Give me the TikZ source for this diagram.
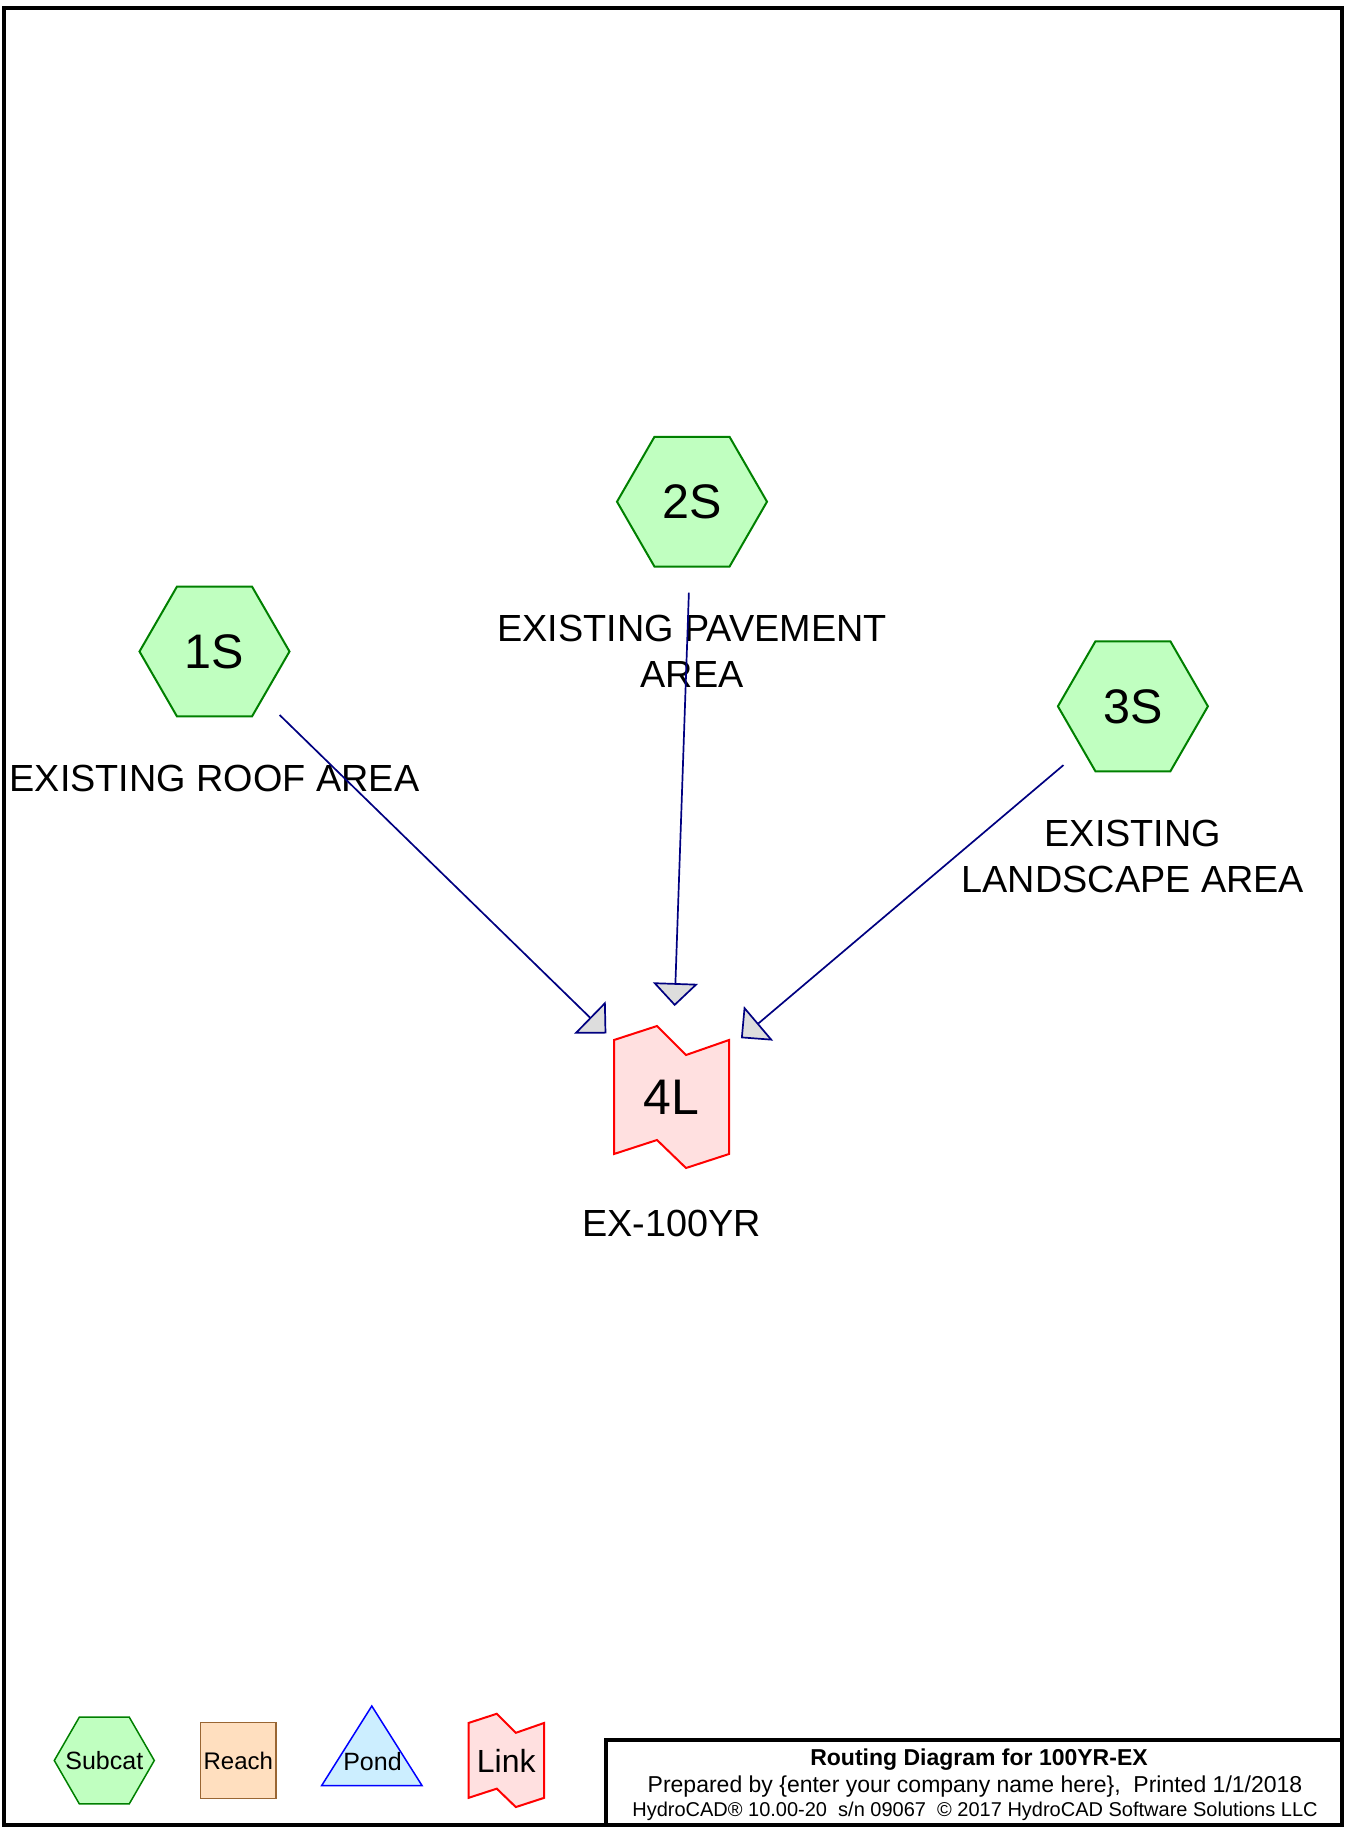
\documentclass[tikz,border=0pt]{standalone}
\usepackage{fontspec}
\setmainfont{Liberation Sans}
\usetikzlibrary{shapes.geometric,arrows.meta,positioning,backgrounds}

\definecolor{subfill}{RGB}{192,255,192}
\definecolor{subdraw}{RGB}{0,128,0}
\definecolor{linkfill}{RGB}{255,224,224}
\definecolor{linkdraw}{RGB}{255,0,0}
\definecolor{reachfill}{RGB}{255,223,191}
\definecolor{reachdraw}{RGB}{153,102,51}
\definecolor{pondfill}{RGB}{204,238,255}
\definecolor{ponddraw}{RGB}{0,0,255}
\definecolor{flowline}{RGB}{0,0,128}
\definecolor{tipfill}{RGB}{221,221,221}

\newcommand{\linkpath}[2]{%
  \filldraw[fill=linkfill, draw=linkdraw, line width=2pt, shift={(#1)}, scale=#2]
    (-57.5,-57) -- (-14.5,-71) -- (14.5,-42) -- (57.5,-57) -- (57.5,57) -- (14.5,71) -- (-14.5,43) -- (-57.5,57) -- cycle;}

\begin{document}
\begin{tikzpicture}[x=1pt, y=-1pt, >={Triangle[length=23pt,width=45pt,fill=tipfill]},
  subcat/.style={regular polygon, regular polygon sides=6, minimum size=150pt, inner sep=0pt,
    fill=subfill, draw=subdraw, line width=2pt, font=\fontsize{48.5}{48.5}\selectfont},
  linknode/.style={minimum width=115pt, minimum height=142pt, inner sep=0pt, font=\fontsize{50}{50}\selectfont},
  arealbl/.style={align=center, inner sep=0pt, font=\fontsize{37.8}{46}\selectfont},
  reachbox/.style={rectangle, minimum width=75.5pt, minimum height=76pt, inner sep=0pt,
    fill=reachfill, draw=reachdraw, line width=1.5pt, font=\fontsize{24}{24}\selectfont},
  flow/.style={->, draw=flowline, line width=1.7pt, shorten <=91pt, shorten >=91pt}]
  \useasboundingbox (0,0) rectangle (1345,1827);
  \draw[line width=4.5pt] (4,8) rectangle (1342,1825);

  \node[subcat] (1S) at (214.5,651.5) {1S};
  \node[subcat] (2S) at (692,501.7) {2S};
  \node[subcat] (3S) at (1132.9,706.3) {3S};
  \node[linknode] (4L) at (671.5,1097) {4L};

  \node[arealbl, below=47.3pt of 1S] (1Slbl) {EXISTING ROOF AREA};
  \node[arealbl, below=47.3pt of 2S] (2Slbl) {EXISTING PAVEMENT\\AREA};
  \node[arealbl, below=47.3pt of 3S] (3Slbl) {EXISTING\\LANDSCAPE AREA};
  \node[arealbl, below=42.1pt of 4L] (4Llbl) {EX-100YR};

  \draw[flow] (1S.center) -- (4L.center);
  \draw[flow] (2S.center) -- (4L.center);
  \draw[flow] (3S.center) -- (4L.center);

  % legend
  \node[subcat, minimum size=100pt, line width=1.5pt,
    label={[inner sep=0pt, font=\fontsize{25}{25}\selectfont]center:Subcat}] (legsub) at (104.3,1760.5) {};
  \node[reachbox] (legreach) at (238.3,1760.5) {Reach};
  \filldraw[fill=pondfill, draw=ponddraw, line width=1.5pt] (321.7,1785.5) -- (371.8,1706) -- (422,1785.5) -- cycle;
  \node[inner sep=0pt, font=\fontsize{25}{25}\selectfont] (legpond) at (372.5,1762) {Pond};
  \node[inner sep=0pt, font=\fontsize{32}{32}\selectfont] (leglink) at (506.3,1760.4) {Link};

  \begin{scope}[on background layer]
    \linkpath{4L.center}{1}
    \linkpath{leglink.center}{0.657}
  \end{scope}

  % title block
  \draw[line width=4pt] (606,1825) -- (606,1740) -- (1342,1740);
  \node[anchor=base, font=\bfseries\fontsize{23}{23}\selectfont] (ttl) at (979,1765.8) {Routing Diagram for 100YR-EX};
  \node[anchor=base, font=\fontsize{23}{23}\selectfont] (prep) at (975,1792.6) {Prepared by \{enter your company name here\},\ \ Printed 1/1/2018};
  \node[anchor=base, font=\fontsize{20}{20}\selectfont] (ver) at (975,1816.1) {HydroCAD® 10.00-20\ \ s/n 09067\ \ © 2017 HydroCAD Software Solutions LLC};
\end{tikzpicture}
\end{document}
